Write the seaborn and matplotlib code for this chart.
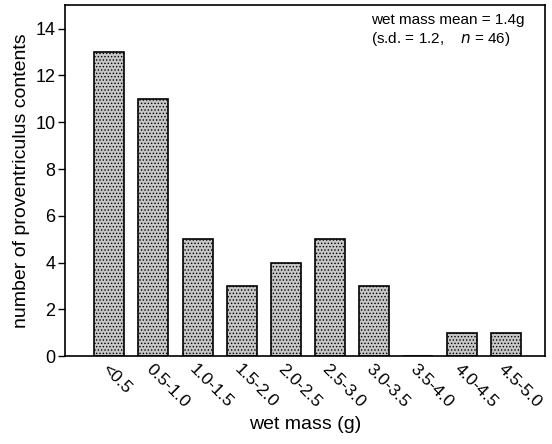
import matplotlib
matplotlib.use('Agg')
import matplotlib.pyplot as plt
import seaborn as sns
import pandas as pd

# histogram of wet mass classes
mass_classes = ['<0.5', '0.5-1.0', '1.0-1.5', '1.5-2.0', '2.0-2.5',
                '2.5-3.0', '3.0-3.5', '3.5-4.0', '4.0-4.5', '4.5-5.0']
counts = [13, 11, 5, 3, 4, 5, 3, 0, 1, 1]
y_ticks = [0, 2, 4, 6, 8, 10, 12, 14]

df = pd.DataFrame({'mass': mass_classes, 'count': counts})

sns.set_style('ticks', {'axes.edgecolor': 'black', 'text.color': 'black',
                        'xtick.color': 'black', 'ytick.color': 'black',
                        'axes.labelcolor': 'black'})
plt.rcParams['font.family'] = ['Liberation Sans', 'DejaVu Sans']
plt.rcParams['hatch.color'] = '#8f8f8f'
plt.rcParams['hatch.linewidth'] = 0.6

fig = plt.figure(figsize=(5.52, 4.44), dpi=100)
ax = fig.add_axes([0.118, 0.198, 0.869, 0.79])

sns.barplot(x='mass', y='count', data=df, color='#c6c6c6', width=0.68,
            edgecolor='black', linewidth=1.2, saturation=1, ax=ax)
for bar in ax.patches:
    bar.set_hatch('.....')

ax.set_xlim(-1.0, 9.87)
ax.set_ylim(0, 15)
ax.set_yticks(y_ticks)
ax.tick_params(axis='y', direction='out', length=5, width=1, labelsize=13, pad=2)
ax.tick_params(axis='x', length=0, labelsize=12.5, pad=4)
plt.setp(ax.get_xticklabels(), rotation=-45, ha='left', va='top',
         rotation_mode='anchor')
for s in ax.spines.values():
    s.set_linewidth(1.2)

ax.set_xlabel('wet mass (g)', fontsize=14, labelpad=4)
ax.set_ylabel('number of proventriculus contents', fontsize=14, labelpad=4)

ax.text(0.638, 0.978, 'wet mass mean = 1.4g', transform=ax.transAxes,
        fontsize=11, ha='left', va='top')
ax.text(0.638, 0.93, '(s.d. = 1.2,    $n$ = 46)', transform=ax.transAxes,
        fontsize=11, ha='left', va='top')

fig.savefig('out.png', dpi=100)
